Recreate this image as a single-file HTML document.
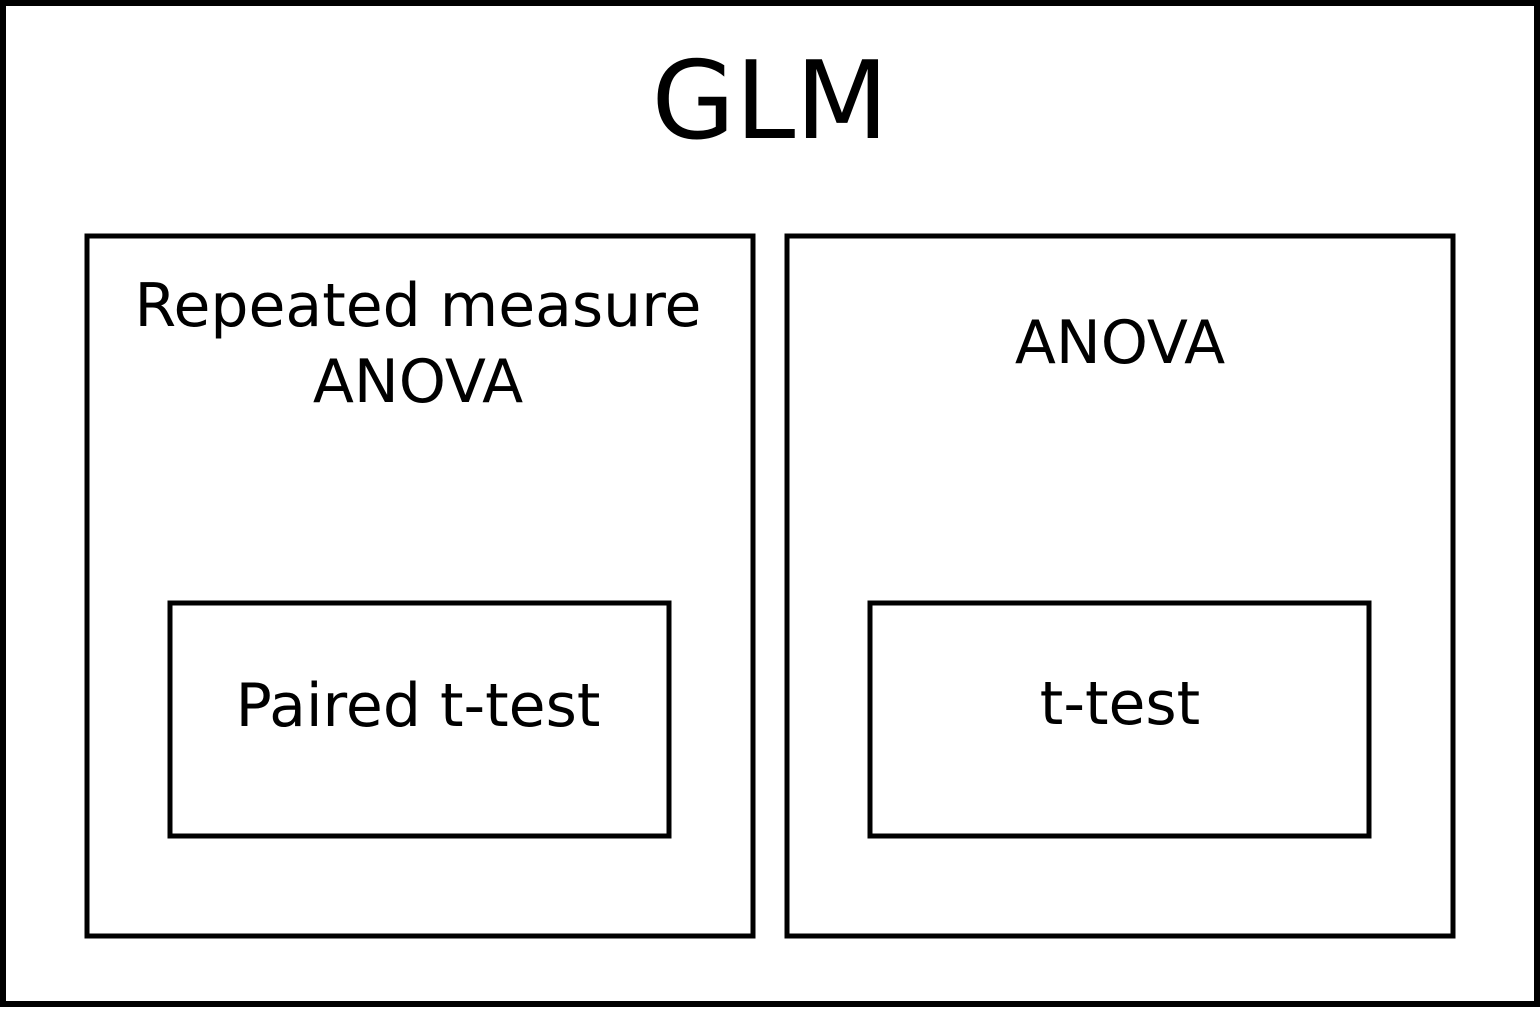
<!DOCTYPE html>
<html><head><style>html,body{margin:0;padding:0;background:#fff}</style></head>
<body>
<svg width="1540" height="1007" viewBox="0 0 1540 1007" xmlns="http://www.w3.org/2000/svg" font-family="'DejaVu Sans','Liberation Sans',sans-serif">
<rect x="3" y="3" width="1534" height="1001" fill="#fff" stroke="#000" stroke-width="6"/>
<text x="770" y="138" font-size="108" text-anchor="middle">GLM</text>
<rect x="87" y="236" width="666" height="700" fill="none" stroke="#000" stroke-width="5"/>
<rect x="787" y="236" width="666" height="700" fill="none" stroke="#000" stroke-width="5"/>
<rect x="170" y="603" width="499" height="233" fill="none" stroke="#000" stroke-width="5"/>
<rect x="870" y="603" width="499" height="233" fill="none" stroke="#000" stroke-width="5"/>
<text x="418" y="326" font-size="60" text-anchor="middle">Repeated measure</text>
<text x="418" y="402" font-size="60" text-anchor="middle">ANOVA</text>
<text x="1120" y="363" font-size="60" text-anchor="middle">ANOVA</text>
<text x="418" y="726" font-size="60" text-anchor="middle">Paired t-test</text>
<text x="1120" y="724" font-size="60" text-anchor="middle">t-test</text>
</svg>
</body></html>
